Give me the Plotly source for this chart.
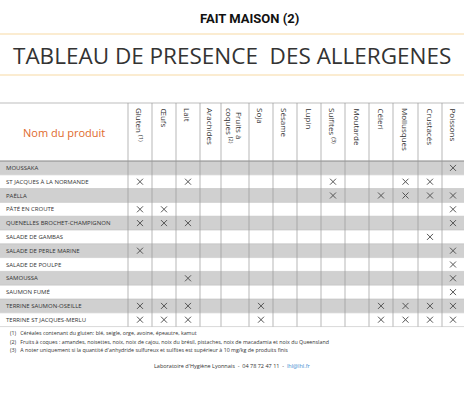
import plotly.graph_objects as go

allergens = ["Gluten <sup>(1)</sup>", "Œufs", "Lait", "Arachides", "Fruits à<br>coques <sup>(2)</sup>", "Soja",
             "Sésame", "Lupin", "Sulfites <sup>(3)</sup>", "Moutarde", "Céleri", "Mollusques",
             "Crustacés", "Poissons"]
products = ["MOUSSAKA", "ST JACQUES À LA NORMANDE", "PAËLLA", "PÂTÉ EN CROUTE",
            "QUENELLES BROCHET-CHAMPIGNON", "SALADE DE GAMBAS", "SALADE DE PERLE MARINE",
            "SALADE DE POULPE", "SAMOUSSA", "SAUMON FUMÉ", "TERRINE SAUMON-OSEILLE",
            "TERRINE ST JACQUES-MERLU"]
presence = {
    "MOUSSAKA": ["Poissons"],
    "ST JACQUES À LA NORMANDE": ["Gluten <sup>(1)</sup>", "Lait", "Sulfites <sup>(3)</sup>", "Mollusques", "Crustacés"],
    "PAËLLA": ["Sulfites <sup>(3)</sup>", "Céleri", "Mollusques", "Crustacés", "Poissons"],
    "PÂTÉ EN CROUTE": ["Gluten <sup>(1)</sup>", "Œufs", "Poissons"],
    "QUENELLES BROCHET-CHAMPIGNON": ["Gluten <sup>(1)</sup>", "Œufs", "Lait", "Poissons"],
    "SALADE DE GAMBAS": ["Crustacés"],
    "SALADE DE PERLE MARINE": ["Gluten <sup>(1)</sup>", "Poissons"],
    "SALADE DE POULPE": ["Poissons"],
    "SAMOUSSA": ["Lait", "Poissons"],
    "SAUMON FUMÉ": ["Poissons"],
    "TERRINE SAUMON-OSEILLE": ["Gluten <sup>(1)</sup>", "Œufs", "Lait", "Soja", "Céleri", "Mollusques", "Crustacés", "Poissons"],
    "TERRINE ST JACQUES-MERLU": ["Gluten <sup>(1)</sup>", "Œufs", "Lait", "Soja", "Céleri", "Mollusques", "Crustacés", "Poissons"],
}
footnotes = [
    "(1)   Céréales contenant du gluten: blé, seigle, orge, avoine, épeautre, kamut",
    "(2)   Fruits à coques : amandes, noisettes, noix, noix de cajou, noix du brésil, pistaches, noix de macadamia et noix du Queensland",
    "(3)   A noter uniquement si la quantité d'anhydride sulfureux et sulfites est supérieur à 10 mg/kg de produits finis",
]

# layout grid (pixel-like units)
col_edges = [0, 128, 152, 176, 200, 221, 249, 273, 297, 321, 345, 369, 393, 418, 442, 464]
head_top, body_top, row_h = 103, 161, 13.8

fig = go.Figure()
shapes = []
for i, p in enumerate(products):
    y0 = body_top + i * row_h
    shapes.append(dict(type="rect", x0=0, x1=464, y0=y0, y1=y0 + row_h, line_width=0,
                       fillcolor="#d0d0d0" if i % 2 == 0 else "white", layer="below"))
    shapes.append(dict(type="line", x0=0, x1=464, y0=y0 + row_h, y1=y0 + row_h,
                       line=dict(color="#bdbdbd", width=0.6)))
body_bot = body_top + len(products) * row_h
shapes.append(dict(type="line", x0=0, x1=464, y0=head_top, y1=head_top, line=dict(color="#bdbdbd", width=1)))
shapes.append(dict(type="line", x0=0, x1=464, y0=body_top, y1=body_top, line=dict(color="#888", width=1.2)))
for x in col_edges[1:-1]:
    shapes.append(dict(type="line", x0=x, x1=x, y0=head_top, y1=body_bot, line=dict(color="#9a9a9a", width=0.7)))
for y in (34, 75):
    shapes.append(dict(type="line", x0=0, x1=464, y0=y, y1=y, line=dict(color="#f7d9a3", width=1)))

centers = [(col_edges[k + 1] + col_edges[k + 2]) / 2 for k in range(len(allergens))]
xs, ys = [], []
for i, p in enumerate(products):
    for a in presence[p]:
        xs.append(centers[allergens.index(a)])
        ys.append(body_top + (i + 0.5) * row_h)
fig.add_trace(go.Scatter(x=xs, y=ys, mode="markers", hoverinfo="skip",
                         marker=dict(symbol="x-thin", size=6, line=dict(color="#555", width=1))))

ann = [
    dict(x=249, y=18, text="<b>FAIT MAISON (2)</b>", font=dict(size=13, family="Liberation Sans Narrow, Roboto", color="#111")),
    dict(x=232, y=55, text="TABLEAU DE PRESENCE  DES ALLERGENES", font=dict(size=22.5, family="Open Sans", color="#333")),
    dict(x=64, y=132, text="Nom du produit", font=dict(size=11, family="Open Sans", color="#e06a2c")),
    dict(x=232, y=366, text="Laboratoire d'Hygiène Lyonnais  -  04 78 72 47 11  -  <span style='color:#3a8ad0'>lhl@lhl.fr</span>",
         font=dict(size=5.5, family="Open Sans", color="#333")),
]
for k, a in enumerate(allergens):
    ann.append(dict(x=centers[k], y=head_top + 3, text=a, textangle=90, yanchor="top",
                    font=dict(size=8, family="Open Sans", color="#333")))
for i, p in enumerate(products):
    ann.append(dict(x=4, y=body_top + (i + 0.5) * row_h, text=p, xanchor="left",
                    font=dict(size=6, family="Open Sans", color="#333")))
for j, f in enumerate(footnotes):
    ann.append(dict(x=8, y=333 + j * 8.6, text=f, xanchor="left", font=dict(size=5.3, family="Open Sans", color="#333")))
for a in ann:
    a.setdefault("xanchor", "center")
    a.setdefault("yanchor", "middle")
    a.update(showarrow=False, xref="x", yref="y")

fig.update_layout(width=464, height=400, margin=dict(l=0, r=0, t=0, b=0),
                  plot_bgcolor="white", paper_bgcolor="white", showlegend=False,
                  shapes=shapes, annotations=ann,
                  xaxis=dict(range=[0, 464], visible=False, fixedrange=True),
                  yaxis=dict(range=[400, 0], visible=False, fixedrange=True))
fig.write_html("out.html", config={"displayModeBar": False},
               post_script="document.body.style.margin='0';document.body.style.overflow='hidden';")
